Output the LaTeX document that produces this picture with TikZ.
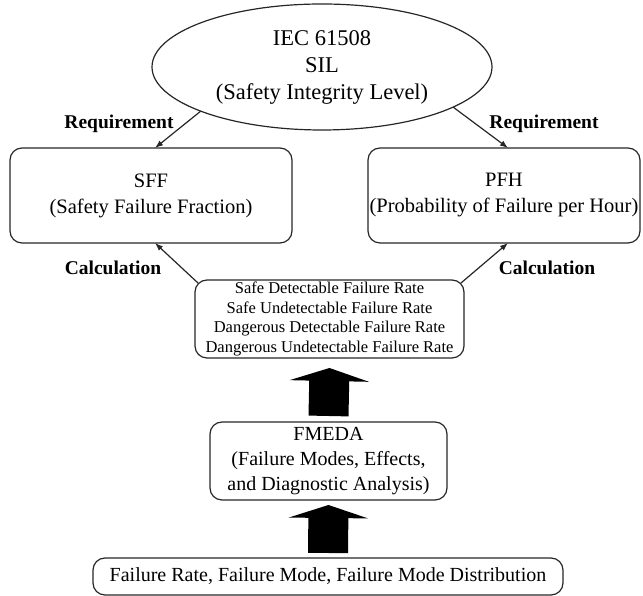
\documentclass[tikz,border=0pt]{standalone}
\usepackage{fontspec}
\setmainfont{Liberation Serif}
\usetikzlibrary{shapes.geometric,arrows.meta,calc}
\begin{document}
\begin{tikzpicture}[x=1pt,y=1pt,
  every node/.style={inner sep=0pt,outer sep=0pt},
  frame/.style={draw=black!85,line width=1.2pt},
  box/.style={frame,rectangle,rounded corners=12pt,align=center},
  bigfont/.style={font=\fontsize{22.5}{27}\selectfont},
  midfont/.style={font=\fontsize{20.5}{26}\selectfont},
  smallfont/.style={font=\fontsize{16.5}{19.8}\selectfont},
  labelfont/.style={font=\fontsize{19.5}{22}\selectfont\bfseries},
  thinarrow/.style={draw=black!85,line width=1.2pt,-{Latex[length=8pt,width=6pt]}},
  fatarrow/.style={draw=black,line width=40pt,-{Triangle[length=13pt,width=79pt]}}
]
\useasboundingbox (0,0) rectangle (643,596);
\node[frame,ellipse,minimum width=340pt,minimum height=126pt,align=center,bigfont] (ell) at (322,529)
  {IEC 61508\\SIL\\(Safety Integrity Level)};
\node[box,midfont,minimum width=282pt,minimum height=95pt] (sff) at (151,400.5)
  {SFF\\(Safety Failure Fraction)};
\node[box,midfont,minimum width=272pt,minimum height=95pt] (pfh) at (504,400.5)
  {PFH\\(Probability of Failure per Hour)};
\node[box,smallfont,minimum width=269pt,minimum height=78pt] (rates) at (329.5,277)
  {Safe Detectable Failure Rate\\Safe Undetectable Failure Rate\\Dangerous Detectable Failure Rate\\Dangerous Undetectable Failure Rate};
\node[box,font=\fontsize{20}{25}\selectfont,minimum width=237pt,minimum height=78pt] (fmeda) at (328.5,135)
  {FMEDA\\(Failure Modes, Effects,\\and Diagnostic Analysis)};
\node[box,font=\fontsize{20}{24}\selectfont,minimum width=470pt,minimum height=37pt] (base) at (328,19.5)
  {Failure Rate, Failure Mode, Failure Mode Distribution};
\node[labelfont] (req1) at (119,472) {Requirement};
\node[labelfont] (req2) at (544,472) {Requirement};
\node[labelfont] (calc1) at (113,328) {Calculation};
\node[labelfont] (calc2) at (547,328) {Calculation};
\draw[thinarrow] (ell.200) -- ([xshift=4pt]sff.north);
\draw[thinarrow] (ell.-17) -- ([xshift=4pt]pfh.north);
\draw[thinarrow] ([shift={(3pt,-3pt)}]rates.north west) -- ([xshift=4pt]sff.south);
\draw[thinarrow] ([shift={(-3pt,-3pt)}]rates.north east) -- ([xshift=4pt]pfh.south);
\draw[fatarrow] ([yshift=6pt]fmeda.north) -- ([yshift=-10pt]rates.south);
\draw[fatarrow] ([yshift=5pt]base.north) -- ([yshift=-5pt]fmeda.south);
\end{tikzpicture}
\end{document}
